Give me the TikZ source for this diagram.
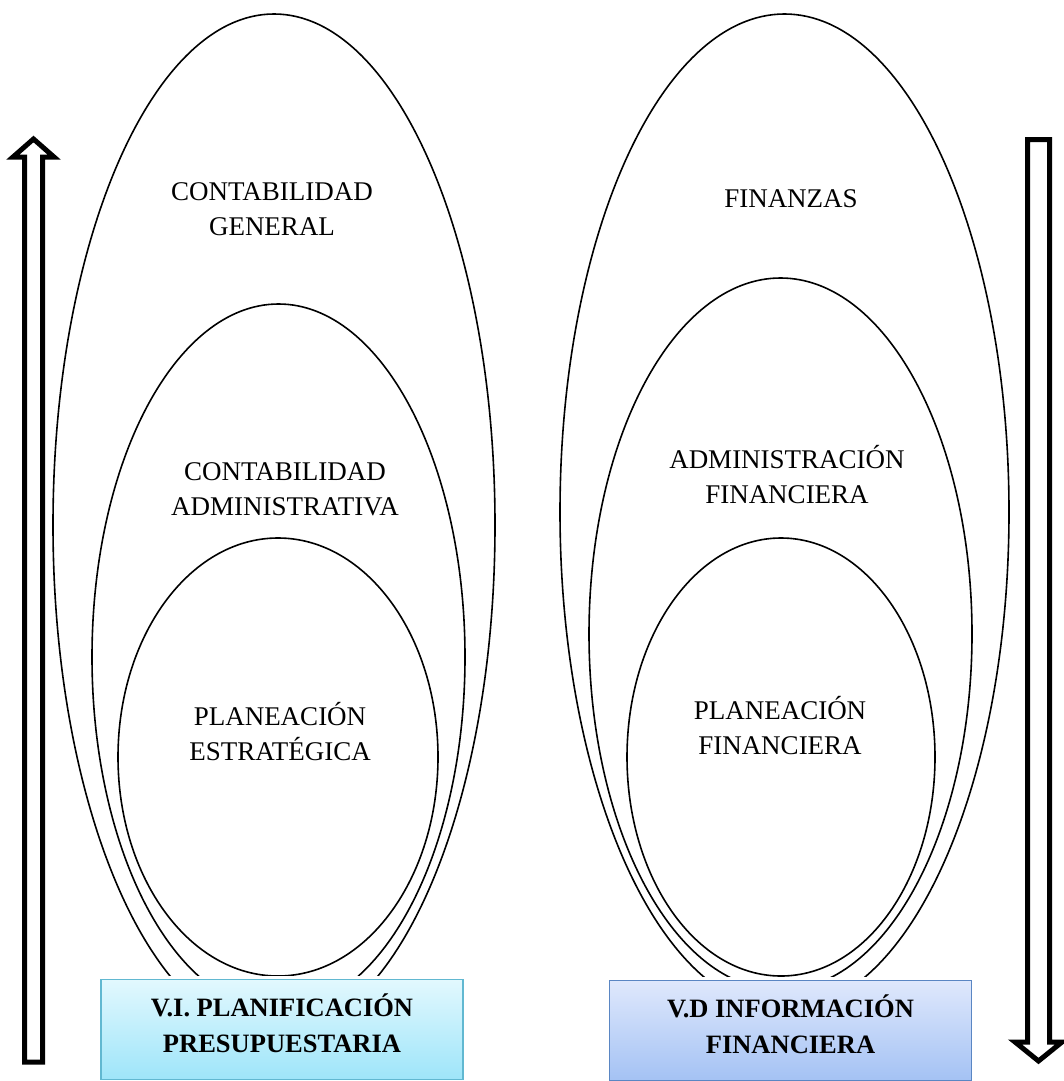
\documentclass[tikz,border=0pt]{standalone}
\usepackage{fontspec}
\setmainfont{Liberation Serif}
\usepackage{tikz}
\usetikzlibrary{calc,shapes,shadows}
\definecolor{viTop}{HTML}{E2F8FE}
\definecolor{viBot}{HTML}{9EE5F9}
\definecolor{viLine}{HTML}{61B8D1}
\definecolor{vdTop}{HTML}{DFE8FC}
\definecolor{vdBot}{HTML}{A4C2F4}
\definecolor{vdLine}{HTML}{5A86C3}
\tikzset{
   orbit/.style={ellipse, draw=black, line width=1.6pt, inner sep=0pt},
   tag/.style={align=center, font=\fontsize{27}{35}\selectfont},
   varbox/.style={rectangle, line width=1.2pt, anchor=north,
                  minimum width=362pt, minimum height=100pt,
                  preaction={draw=white, line width=8pt}},
   boxvi/.style={varbox, draw=viLine, top color=viTop, bottom color=viBot},
   boxvd/.style={varbox, draw=vdLine, top color=vdTop, bottom color=vdBot},
   boxtxt/.style={align=center, font=\fontsize{26.5}{36}\selectfont\bfseries},
   bigarrow/.style={draw=black, line width=5pt, fill=white, line join=miter}
}
\begin{document}
\begin{tikzpicture}[x=1pt,y=-1pt]
\useasboundingbox (0,0) rectangle (1063,1081);

% izquierda
\node[orbit, minimum width=442pt, minimum height=1022pt] (outerL) at (274,525) {};
\node[orbit, minimum width=373pt, minimum height=706pt] (midL) at (278.5,657) {};
\node[orbit, minimum width=320pt, minimum height=438pt] (innerL) at (278,757) {};
\node[tag] (cgen) at (272,209) {CONTABILIDAD\\GENERAL};
\node[tag] (cadm) at (285,489) {CONTABILIDAD\\ADMINISTRATIVA};
\node[tag] (pest) at (280,732) {PLANEACIÓN\\ESTRATÉGICA};

% derecha
\node[orbit, minimum width=449pt, minimum height=996pt] (outerR) at (784.5,512) {};
\node[orbit, minimum width=383pt, minimum height=712pt] (midR) at (780.5,634) {};
\node[orbit, minimum width=308pt, minimum height=438pt] (innerR) at (781,757) {};
\node[tag] (fin) at (791,199) {FINANZAS};
\node[tag] (afin) at (787,475) {ADMINISTRACIÓN\\FINANCIERA};
\node[tag] (pfin) at (780,726) {PLANEACIÓN\\FINANCIERA};

% cajas
\node[boxvi] (vi) at (282,979) {};
\node[boxvd] (vd) at (790.5,980) {};
\node[boxtxt] (vitxt) at ($(vi.center)+(0,-6)$) {V.I. PLANIFICACIÓN\\PRESUPUESTARIA};
\node[boxtxt] (vdtxt) at ($(vd.center)+(0,-6)$) {V.D INFORMACIÓN\\FINANCIERA};

% flechas
\draw[bigarrow] (24.5,1062) -- (24.5,157) -- (13,157) -- (33.5,139)
   -- (54,157) -- (42.5,157) -- (42.5,1062) -- cycle;
\draw[bigarrow] (1027.5,139.5) -- (1027.5,1042) -- (1015,1042) -- (1038.5,1061)
   -- (1062,1042) -- (1049.5,1042) -- (1049.5,139.5) -- cycle;
\end{tikzpicture}
\end{document}
